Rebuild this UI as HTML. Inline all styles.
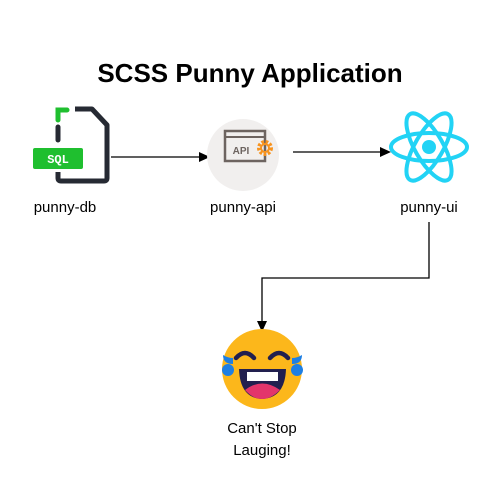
<!DOCTYPE html>
<html><head><style>
body{margin:0;width:500px;height:490px;background:#fff;font-family:"Liberation Sans",sans-serif;}
</style></head><body>
<svg width="500" height="490" xmlns="http://www.w3.org/2000/svg" font-family="Liberation Sans, sans-serif">
<rect width="500" height="490" fill="#fff"/>
<text x="250" y="82" text-anchor="middle" font-size="26" font-weight="bold" fill="#000">SCSS Punny Application</text>
<!-- file icon -->
<path d="M58 140 V127" stroke="#262a33" stroke-width="5" stroke-linecap="round" fill="none"/>
<path d="M58 120 V110 H67" stroke="#1fbf2f" stroke-width="5" fill="none" stroke-linecap="round"/>
<path d="M75 109 H92 L107 125 V178 Q107 181 104 181 H61 Q58 181 58 178 V172" stroke="#262a33" stroke-width="5" fill="none" stroke-linejoin="round"/>
<rect x="33" y="148" width="50" height="21" rx="2" fill="#1fbf2f"/>
<text x="58" y="163" text-anchor="middle" font-size="12" font-weight="bold" fill="#fff" font-family="Liberation Mono, monospace">SQL</text>
<text x="65" y="212" text-anchor="middle" font-size="15" fill="#000">punny-db</text>
<!-- arrow db->api -->
<line x1="111" y1="157" x2="200" y2="157" stroke="#000" stroke-width="1.3"/>
<polygon points="210,157 199,152 199,162" fill="#000"/>
<!-- api -->
<circle cx="243" cy="155" r="36" fill="#f1efee"/>
<rect x="225" y="131" width="40" height="30" fill="none" stroke="#6d6460" stroke-width="2.5"/>
<line x1="225" y1="137" x2="265" y2="137" stroke="#6d6460" stroke-width="2"/>
<text x="241" y="154" text-anchor="middle" font-size="10" font-weight="bold" fill="#6d6460">API</text>
<circle cx="265" cy="148" r="6" fill="none" stroke="#f7931e" stroke-width="4" stroke-dasharray="2.5 1.6"/>
<circle cx="265" cy="148" r="4" fill="none" stroke="#f7931e" stroke-width="2"/>
<text x="243" y="212" text-anchor="middle" font-size="15" fill="#000">punny-api</text>
<!-- arrow api->ui -->
<line x1="293" y1="152" x2="381" y2="152" stroke="#000" stroke-width="1.3"/>
<polygon points="391,152 380,147 380,157" fill="#000"/>
<!-- react -->
<g transform="translate(429,147)" fill="none" stroke="#22d3f5" stroke-width="4">
<ellipse rx="38" ry="14"/>
<ellipse rx="38" ry="14" transform="rotate(60)"/>
<ellipse rx="38" ry="14" transform="rotate(-60)"/>
<circle r="7" fill="#22d3f5" stroke="none"/>
</g>
<text x="429" y="212" text-anchor="middle" font-size="15" fill="#000">punny-ui</text>
<!-- connector -->
<polyline points="429,222 429,278 262,278 262,322" fill="none" stroke="#000" stroke-width="1.3"/>
<polygon points="262,332 257,321 267,321" fill="#000"/>
<!-- emoji -->
<circle cx="262" cy="369" r="40" fill="#fcb71b"/>
<path d="M236 358 q9 -10 18 0" stroke="#22204f" stroke-width="4.5" fill="none" stroke-linecap="round"/>
<path d="M270 358 q9 -10 18 0" stroke="#22204f" stroke-width="4.5" fill="none" stroke-linecap="round"/>
<path d="M239 369 H286 Q285 398 262 399 Q240 398 239 369 Z" fill="#22204f"/>
<rect x="247" y="372" width="31" height="9" fill="#fff"/>
<path d="M245 390 Q262 377 280 390 Q271 399 262 399 Q253 399 245 390 Z" fill="#e3356b"/>
<path d="M223 355 q5 3 10 3 v6 q-10 0 -10 -9 z" fill="#1e7fe3"/>
<ellipse cx="228" cy="370" rx="6" ry="6" fill="#1e7fe3"/>
<path d="M302 355 q-5 3 -10 3 v6 q10 0 10 -9 z" fill="#1e7fe3"/>
<ellipse cx="297" cy="370" rx="6" ry="6" fill="#1e7fe3"/>
<text x="262" y="433" text-anchor="middle" font-size="15" fill="#000">Can't Stop</text>
<text x="262" y="455" text-anchor="middle" font-size="15" fill="#000">Lauging!</text>
</svg>
</body></html>
